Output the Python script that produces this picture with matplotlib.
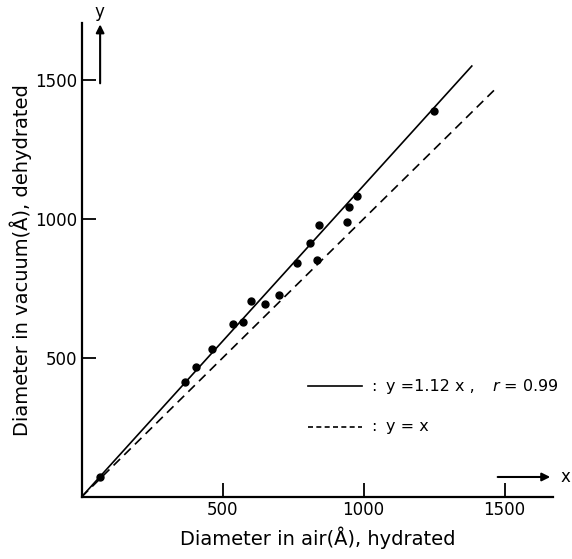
import numpy as np
import matplotlib
matplotlib.use("Agg")
import matplotlib.pyplot as plt

# measured particle diameters (Angstrom)
d_air = [65, 367, 406, 462, 538, 572, 600, 651, 699, 765, 810, 836, 842, 940, 950, 976, 1251]
d_vacuum = [72, 415, 469, 533, 622, 631, 705, 693, 727, 843, 915, 852, 978, 990, 1044, 1084, 1390]

fit_slope = 1.12
fit_r = 0.99
fit_end = 1384      # x where the fitted line stops
ident_end = 1466    # x where y = x stops
ticks = [500, 1000, 1500]

plt.rcParams['font.family'] = ['DejaVu Sans']

fig = plt.figure(figsize=(5.72, 5.59), dpi=100)
ax = fig.add_axes([0.1425, 0.1109, 0.8243, 0.848])

xf = np.array([0, fit_end])
ax.plot(xf, fit_slope * xf, color='black', lw=1.2)
xi = np.array([0, ident_end])
ax.plot(xi, xi, color='black', lw=1.2, dashes=(5.5, 3.5))
ax.plot(d_air, d_vacuum, 'o', color='black', ms=5, mec='black')

ax.set_xlim(0, 1672)
ax.set_ylim(0, 1705)
ax.set_xticks(ticks)
ax.set_yticks(ticks)
ax.tick_params(direction='in', length=10, width=1.3, labelsize=12, pad=3)
for s in ['top', 'right']:
    ax.spines[s].set_visible(False)
for s in ['left', 'bottom']:
    ax.spines[s].set_linewidth(1.6)

ax.set_xlabel('Diameter in air(Å), hydrated', fontsize=14, labelpad=5)
ax.set_ylabel('Diameter in vacuum(Å), dehydrated', fontsize=14, labelpad=2)

# axis direction arrows
ax.annotate('', xy=(66, 1710), xytext=(66, 1478), annotation_clip=False,
            arrowprops=dict(arrowstyle='-|>', color='black', lw=1.5, mutation_scale=12))
ax.text(62, 1745, 'y', ha='center', va='center', fontsize=12, clip_on=False)
ax.annotate('', xy=(1672, 72), xytext=(1466, 72), annotation_clip=False,
            arrowprops=dict(arrowstyle='-|>', color='black', lw=1.5, mutation_scale=12))
ax.text(1715, 72, 'x', ha='center', va='center', fontsize=12, clip_on=False)

# key for the two lines
ax.plot([803, 995], [399, 399], color='black', lw=1.2)
ax.plot([803, 995], [252, 252], color='black', lw=1.2, dashes=(3, 2))
ax.text(1035, 399, ':', ha='center', va='center', fontsize=11.5)
ax.text(1080, 399, 'y =%.2f x ,' % fit_slope, ha='left', va='center', fontsize=11.5)
ax.text(1693, 399, '$r$ = %.2f' % fit_r, ha='right', va='center', fontsize=11.5,
        clip_on=False)
ax.text(1035, 252, ':', ha='center', va='center', fontsize=11.5)
ax.text(1080, 252, 'y = x', ha='left', va='center', fontsize=11.5)

fig.savefig('out.png', dpi=100)
